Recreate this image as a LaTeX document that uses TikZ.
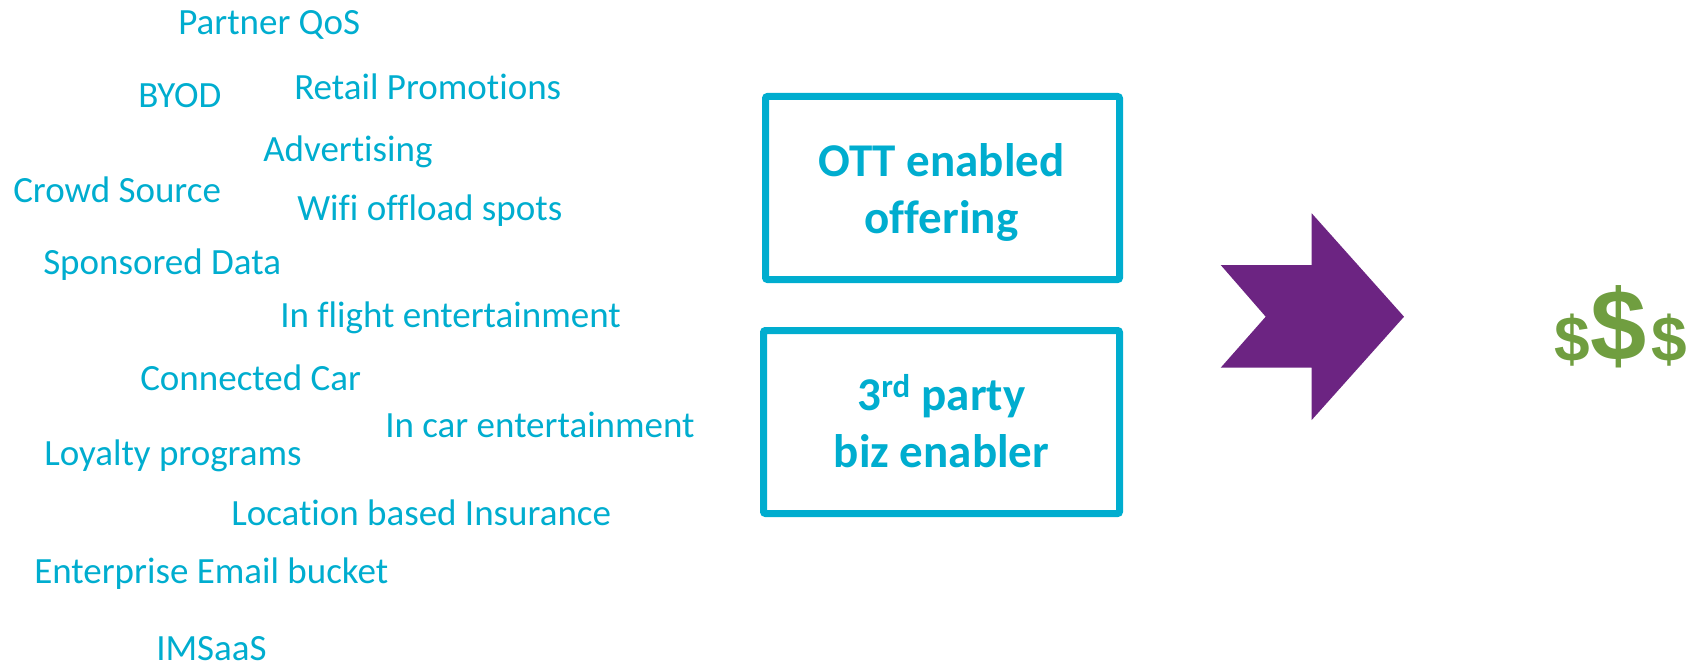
\documentclass[tikz,border=0pt]{standalone}
\usepackage{fontspec}
\setmainfont[Ligatures={NoCommon,NoContextual}, RawFeature={-liga;-clig;-calt;-dlig}]{Carlito}
\newfontfamily\dollarfont{Liberation Sans}
\definecolor{tcyan}{RGB}{0,173,207}
\definecolor{apurple}{RGB}{108,36,130}
\definecolor{dgreen}{RGB}{112,158,64}
\begin{document}
\begin{tikzpicture}[x=0.75pt,y=-0.75pt,
  item/.style={anchor=base west, inner sep=0pt, text=tcyan, font=\fontsize{27.75}{33}\selectfont},
  offerbox/.style={draw=tcyan, line width=5.25pt, rounded corners=1.5pt, inner sep=0pt},
  boxtext/.style={anchor=base, inner sep=0pt, text=tcyan, font=\bfseries\fontsize{35.25}{42}\selectfont},
  dollar/.style={anchor=base, inner sep=0pt, text=dgreen}]
\useasboundingbox (0,0) rectangle (1688,667);
% left list
\node[item] (pq) at (178,35) {Partner QoS};
\node[item] (byod) at (138,108) {BYOD};
\node[item] (rp) at (294,99) {Retail Promotions};
\node[item] (adv) at (263,161) {Advertising};
\node[item] (cs) at (13,202) {Crowd Source};
\node[item] (wifi) at (297,220) {Wifi offload spots};
\node[item] (sd) at (43,274) {Sponsored Data};
\node[item] (ife) at (280,327) {In flight entertainment};
\node[item] (cc) at (140,390) {Connected Car};
\node[item] (ice) at (385,437) {In car entertainment};
\node[item] (lp) at (44,465) {Loyalty programs};
\node[item] (lbi) at (231,525) {Location based Insurance};
\node[item] (eeb) at (34,583) {Enterprise Email bucket};
\node[item] (ims) at (156,660) {IMSaaS};
% boxes
\node[offerbox, minimum width=265.5pt, minimum height=137.25pt] (b1) at (942.5,188) {};
\node[offerbox, minimum width=267pt, minimum height=137.25pt] (b2) at (941.5,422) {};
\node[boxtext] (t1a) at (941.5,176) {OTT enabled};
\node[boxtext] (t1b) at (941.5,233) {offering};
\node[boxtext] (t2a) at (941.5,410) {3\textsuperscript{rd} party};
\node[boxtext] (t2b) at (941.5,467) {biz enabler};
% arrow
\fill[apurple] (1311.7,213.3) -- (1404,316.7) -- (1311.7,420) -- (1311.7,367.7)
  -- (1220.7,367.7) -- (1265.7,316.7) -- (1220.7,265) -- (1311.7,265) -- cycle;
% dollars
\node[dollar, font=\dollarfont\bfseries\fontsize{48}{48}\selectfont] (d1) at (1572.5,361) {\$};
\node[dollar, font=\dollarfont\bfseries\fontsize{75.75}{76}\selectfont] (d2) at (1618.7,360) {\$};
\node[dollar, font=\dollarfont\bfseries\fontsize{48}{48}\selectfont] (d3) at (1669,361) {\$};
\end{tikzpicture}
\end{document}
